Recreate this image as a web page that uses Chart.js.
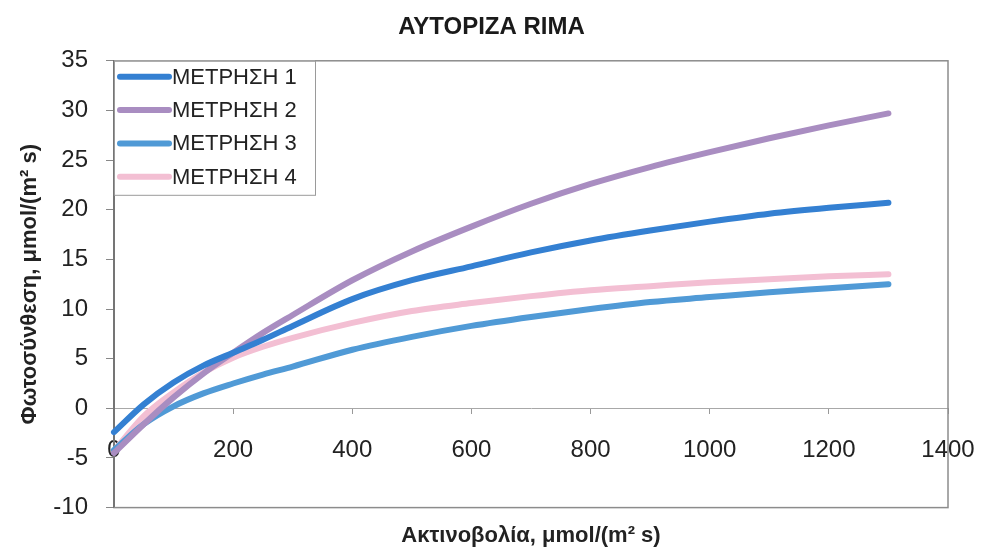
<!DOCTYPE html>
<html>
<head>
<meta charset="utf-8">
<script src="https://cdn.jsdelivr.net/npm/chart.js@4.4.0/dist/chart.umd.min.js"></script>
<style>
  body { margin: 0; background: #ffffff; }
  #wrap { width: 983px; height: 553px; position: relative; }
</style>
</head>
<body>
<div id="wrap"><canvas id="photoChart"></canvas></div>
<script>
// Values
const irradiance = [0, 50, 100, 150, 200, 250, 300, 400, 500, 600, 700, 800, 900, 1000, 1100, 1200, 1300];
const metrisi1 = [-2.4, 0.4, 2.6, 4.3, 5.6, 6.9, 8.3, 11.0, 12.9, 14.3, 15.7, 16.9, 17.9, 18.8, 19.6, 20.2, 20.7];
const metrisi2 = [-4.5, -1.6, 1.1, 3.5, 5.6, 7.6, 9.4, 12.9, 15.8, 18.3, 20.6, 22.6, 24.3, 25.8, 27.2, 28.5, 29.7];
const metrisi3 = [-4.2, -1.6, 0.2, 1.5, 2.5, 3.4, 4.2, 5.9, 7.2, 8.3, 9.2, 10.0, 10.7, 11.2, 11.7, 12.1, 12.5];
const metrisi4 = [-4.3, -0.8, 1.6, 3.6, 5.1, 6.2, 7.1, 8.6, 9.8, 10.6, 11.3, 11.9, 12.3, 12.7, 13.0, 13.3, 13.5];

const seriesLabels = ['ΜΕΤΡΗΣΗ 1', 'ΜΕΤΡΗΣΗ 2', 'ΜΕΤΡΗΣΗ 3', 'ΜΕΤΡΗΣΗ 4'];
const seriesColors = ['#3480d2', '#a98dc1', '#509ad6', '#f3bfd3'];

const FONT = "'Liberation Sans', Arial, sans-serif";

function toPoints(values) {
    return values.map((v, i) => ({ x: irradiance[i], y: v }));
}

// frame around the plot area
const plotFrame = {
    id: 'plotFrame',
    beforeDatasetsDraw(chart) {
        const { ctx, chartArea: a } = chart;
        ctx.save();
        ctx.strokeStyle = '#8c8c8c';
        ctx.lineWidth = 1.5;
        ctx.strokeRect(a.left, a.top, a.right - a.left, a.bottom - a.top);
        ctx.restore();
    }
};

// Excel-like legend box sitting in the top-left corner of the plot
const boxLegend = {
    id: 'boxLegend',
    afterDatasetsDraw(chart) {
        const { ctx, chartArea: a } = chart;
        const x0 = a.left, y0 = a.top, w = 201, h = 134;
        ctx.save();
        ctx.fillStyle = '#ffffff';
        ctx.fillRect(x0, y0, w, h);
        ctx.strokeStyle = '#9a9a9a';
        ctx.lineWidth = 1;
        ctx.strokeRect(x0 + 0.5, y0 + 0.5, w, h);
        ctx.font = '22px ' + FONT;
        ctx.textBaseline = 'middle';
        chart.data.datasets.forEach((ds, i) => {
            const cy = y0 + 16 + i * 33.3;
            ctx.strokeStyle = ds.borderColor;
            ctx.lineWidth = 6;
            ctx.lineCap = 'round';
            ctx.beginPath();
            ctx.moveTo(x0 + 6, cy);
            ctx.lineTo(x0 + 55, cy);
            ctx.stroke();
            ctx.fillStyle = '#222222';
            ctx.fillText(ds.label, x0 + 58, cy + 1);
        });
        ctx.restore();
    }
};

function noEdgePadding(scale) {
    scale.paddingLeft = 0;
    scale.paddingRight = 0;
    scale.paddingTop = 0;
    scale.paddingBottom = 0;
}

const ctx = document.getElementById('photoChart').getContext('2d');
new Chart(ctx, {
    type: 'line',
    data: {
        datasets: [metrisi1, metrisi2, metrisi3, metrisi4].map((vals, i) => ({
            label: seriesLabels[i],
            data: toPoints(vals),
            borderColor: seriesColors[i],
            backgroundColor: seriesColors[i],
            borderWidth: 6,
            borderCapStyle: 'round',
            pointRadius: 0,
            cubicInterpolationMode: 'monotone',
            fill: false,
            clip: false
        }))
    },
    options: {
        responsive: true,
        maintainAspectRatio: false,
        animation: false,
        layout: { autoPadding: false, padding: 0 },
        plugins: {
            legend: { display: false },
            tooltip: { enabled: false },
            title: {
                display: true,
                text: 'AYTOPIZA RIMA',
                color: '#1a1a1a',
                font: { family: FONT, size: 24, weight: 'bold' },
                padding: { top: 13, bottom: 19 }
            }
        },
        scales: {
            x: {
                type: 'linear',
                min: 0,
                max: 1400,
                position: { y: 0 },
                ticks: {
                    stepSize: 200,
                    color: '#222222',
                    padding: 23,
                    maxRotation: 0,
                    font: { family: FONT, size: 24 },
                    callback: (v) => String(v)
                },
                grid: { display: true, drawOnChartArea: false, tickLength: 5, color: '#999999' },
                border: { display: true, color: '#a8a8a8', width: 1 },
                afterFit: noEdgePadding
            },
            x2: {
                type: 'linear',
                min: 0,
                max: 1400,
                position: 'bottom',
                ticks: { display: false },
                grid: { display: false, drawTicks: false },
                border: { display: false },
                title: {
                    display: true,
                    text: 'Ακτινοβολία, μmol/(m² s)',
                    color: '#222222',
                    font: { family: FONT, size: 22, weight: 'bold' },
                    padding: { top: 15, bottom: 4 }
                },
                afterFit: noEdgePadding
            },
            y: {
                min: -10,
                max: 35,
                ticks: {
                    stepSize: 5,
                    color: '#222222',
                    padding: 18,
                    font: { family: FONT, size: 24 }
                },
                grid: { display: true, drawOnChartArea: false, tickLength: 8, color: '#888888' },
                border: { display: true, color: '#333333', width: 2 },
                title: {
                    display: true,
                    text: 'Φωτοσύνθεση, μmol/(m² s)',
                    color: '#222222',
                    font: { family: FONT, size: 22, weight: 'bold' },
                    padding: { top: 17, bottom: 0 }
                },
                afterFit(scale) {
                    noEdgePadding(scale);
                    scale.width = 114;
                }
            },
            // empty strip on the right so "1400" fits past the frame
            yRight: {
                position: 'right',
                min: -10,
                max: 35,
                ticks: { display: false },
                grid: { display: false, drawTicks: false },
                border: { display: false },
                afterFit(scale) {
                    noEdgePadding(scale);
                    scale.width = 35;
                }
            }
        }
    },
    plugins: [plotFrame, boxLegend]
});
</script>
</body>
</html>
